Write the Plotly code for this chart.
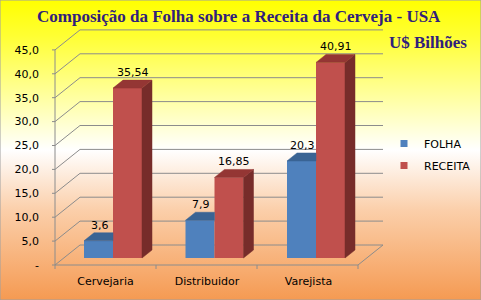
import base64
import plotly.graph_objects as go

# ---------------- data ----------------
categories = ["Cervejaria", "Distribuidor", "Varejista"]
folha = [3.6, 7.9, 20.3]
receita = [35.54, 16.85, 40.91]
series_names = ["FOLHA", "RECEITA"]
ytick_values = [0, 5, 10, 15, 20, 25, 30, 35, 40, 45]
ytick_labels = ["-", "5,0", "10,0", "15,0", "20,0", "25,0", "30,0", "35,0", "40,0", "45,0"]
title_text = "Composição da Folha sobre a Receita da Cerveja - USA"
unit_text = "U$ Bilhões"

# ---------------- geometry (pixels) ----------------
W, H = 481, 300
K = 4.78            # px per unit
BAR0 = 258          # pixel y of bar base
FRONT0 = 265        # pixel y of front-plane zero
PLOT_BOTTOM = 273
PLOT_LEFT = 48
YLABEL_AXIS_PX = 39
CAT0 = 113
CAT_STEP = 101.5


def xpx(px):
    return (px - CAT0) / CAT_STEP


x_range = [xpx(PLOT_LEFT), xpx(W)]
y_range = [(BAR0 - PLOT_BOTTOM) / K, BAR0 / K]
y2_range = [(FRONT0 - PLOT_BOTTOM) / K, FRONT0 / K]

BAR_W = 29 / CAT_STEP
DX = 10 / CAT_STEP
DY = 8 / K
BACK_DX_L = xpx(80)
FRONT_XL = xpx(55)
FRONT_XR = xpx(358)
BACK_XR = xpx(383)
BACK_DY = 20 / K
CAT_SHIFT = 7.5 / CAT_STEP

BLUE, BLUE_TOP = "#4F81BD", "#3A6494"
RED, RED_TOP, RED_SIDE = "#C0504D", "#943634", "#772C2A"
GRID = "#8C8C8C"
TXT = "DejaVu Sans"
TITLE_COLOR = "#30207C"

idx = list(range(len(categories)))

fig = go.Figure()

# front faces
fig.add_trace(go.Bar(x=idx, y=folha, offset=-BAR_W, width=BAR_W, marker=dict(color=BLUE, line=dict(width=0)),
                     showlegend=False, hoverinfo="skip"))
fig.add_trace(go.Bar(x=idx, y=receita, offset=0, width=BAR_W, marker=dict(color=RED, line=dict(width=0)),
                     showlegend=False, hoverinfo="skip"))

# 3D faces
for i, v in zip(idx, folha):
    xl, xr = i - BAR_W, i
    fig.add_trace(go.Scatter(x=[xl, xr, xr, xl + DX, xl], y=[v, v, v + DY, v + DY, v], mode="lines",
                             fill="toself", fillcolor=BLUE_TOP, line=dict(color=BLUE_TOP, width=0.5),
                             showlegend=False, hoverinfo="skip"))
for i, v in zip(idx, receita):
    xl, xr = i, i + BAR_W
    fig.add_trace(go.Scatter(x=[xr, xr, xr + DX, xr + DX, xr], y=[0, v, v + DY, DY, 0], mode="lines",
                             fill="toself", fillcolor=RED_SIDE, line=dict(color=RED_SIDE, width=0.5),
                             showlegend=False, hoverinfo="skip"))
    fig.add_trace(go.Scatter(x=[xl, xr, xr + DX, xl + DX, xl], y=[v, v, v + DY, v + DY, v], mode="lines",
                             fill="toself", fillcolor=RED_TOP, line=dict(color=RED_TOP, width=0.5),
                             showlegend=False, hoverinfo="skip"))

# legend entries
for name, col in zip(series_names, [BLUE, RED]):
    fig.add_trace(go.Scatter(x=[None], y=[None], mode="markers", name=name, legendgroup=name,
                             marker=dict(symbol="square", size=7, color=col)))

# value labels
annotations = []
for vals, off, xs in [(folha, -BAR_W / 2, -4), (receita, BAR_W / 2, 0)]:
    for i, v in zip(idx, vals):
        annotations.append(dict(x=i + off + DX / 2, y=v + DY, xref="x", yref="y", text=f"{v:g}".replace(".", ","),
                                showarrow=False, yanchor="bottom", xanchor="center", xshift=xs, borderpad=0,
                                font=dict(family=TXT, size=11, color="black")))
annotations.append(dict(x=239 / W, y=1 - 16 / H, xref="paper", yref="paper", text="<b>" + title_text + "</b>",
                        showarrow=False, xanchor="center", yanchor="middle",
                        font=dict(family="Liberation Serif", size=17, color=TITLE_COLOR)))
annotations.append(dict(x=428 / W, y=1 - 43 / H, xref="paper", yref="paper", text="<b>" + unit_text + "</b>",
                        showarrow=False, xanchor="center", yanchor="middle",
                        font=dict(family="Liberation Serif", size=17, color=TITLE_COLOR)))

# walls / grid
shapes = []
for v in ytick_values:
    shapes.append(dict(type="path", xref="x", yref="y2", layer="below",
                       path=f"M{FRONT_XL},{v} L{BACK_DX_L},{v + BACK_DY} L{BACK_XR},{v + BACK_DY}",
                       line=dict(color=GRID, width=1)))
    shapes.append(dict(type="line", xref="x", yref="y2", layer="below", x0=xpx(52), x1=FRONT_XL, y0=v, y1=v,
                       line=dict(color=GRID, width=1)))
shapes.append(dict(type="line", xref="x", yref="y2", layer="below", x0=FRONT_XL, x1=FRONT_XL,
                   y0=0, y1=ytick_values[-1], line=dict(color=GRID, width=1)))
shapes.append(dict(type="path", xref="x", yref="y2", layer="below",
                   path=f"M{FRONT_XL},0 L{FRONT_XR},0 L{BACK_XR},{BACK_DY}", line=dict(color=GRID, width=1)))
for b in range(len(categories) + 1):
    xb = FRONT_XL + b * (FRONT_XR - FRONT_XL) / len(categories)
    shapes.append(dict(type="line", xref="x", yref="y2", layer="below", x0=xb, x1=xb, y0=0, y1=-4 / K,
                       line=dict(color=GRID, width=1)))
shapes.append(dict(type="rect", xref="paper", yref="paper", x0=0, x1=1, y0=0, y1=1,
                   line=dict(color="#A0A0A0", width=1)))

svg = ('<svg xmlns="http://www.w3.org/2000/svg" width="481" height="300" preserveAspectRatio="none">'
       '<defs><linearGradient id="g" x1="0" y1="0" x2="0" y2="1">'
       '<stop offset="0" stop-color="#FFFF00"/>'
       '<stop offset="0.12" stop-color="#FFFF33"/>'
       '<stop offset="0.5" stop-color="#FFFFFF"/>'
       '<stop offset="0.7" stop-color="#FBCFAA"/>'
       '<stop offset="1" stop-color="#F59A52"/>'
       '</linearGradient></defs><rect width="481" height="300" fill="url(#g)"/></svg>')
bg_src = "data:image/svg+xml;base64," + base64.b64encode(svg.encode()).decode()

fig.update_layout(
    width=W, height=H,
    margin=dict(l=0, r=0, t=0, b=0),
    paper_bgcolor="#FFFFFF", plot_bgcolor="rgba(0,0,0,0)",
    barmode="overlay",
    images=[dict(source=bg_src, xref="paper", yref="paper", x=0, y=1, sizex=1, sizey=1,
                 xanchor="left", yanchor="top", sizing="stretch", layer="below")],
    xaxis=dict(domain=[PLOT_LEFT / W, 1], range=x_range, showgrid=False, zeroline=False, showline=False,
               tickmode="array", tickvals=[i - CAT_SHIFT for i in idx], ticktext=categories, ticks="",
               tickfont=dict(family=TXT, size=11, color="black"), automargin=False, fixedrange=True),
    yaxis=dict(domain=[(H - PLOT_BOTTOM) / H, 1], range=y_range, visible=False, automargin=False),
    yaxis2=dict(overlaying="y", side="left", anchor="free", position=YLABEL_AXIS_PX / W,
                range=y2_range, showgrid=False, zeroline=False, showline=False,
                tickmode="array", tickvals=ytick_values, ticktext=ytick_labels, ticks="",
                tickfont=dict(family=TXT, size=11, color="black"), automargin=False),
    showlegend=True,
    legend=dict(x=384 / W, y=1 - 129 / H, xanchor="left", yanchor="top", bgcolor="rgba(0,0,0,0)",
                font=dict(family=TXT, size=11, color="black"), itemwidth=30, tracegroupgap=3,
                traceorder="grouped"),
    annotations=annotations,
    shapes=shapes,
)

fig.write_html("out.html")
